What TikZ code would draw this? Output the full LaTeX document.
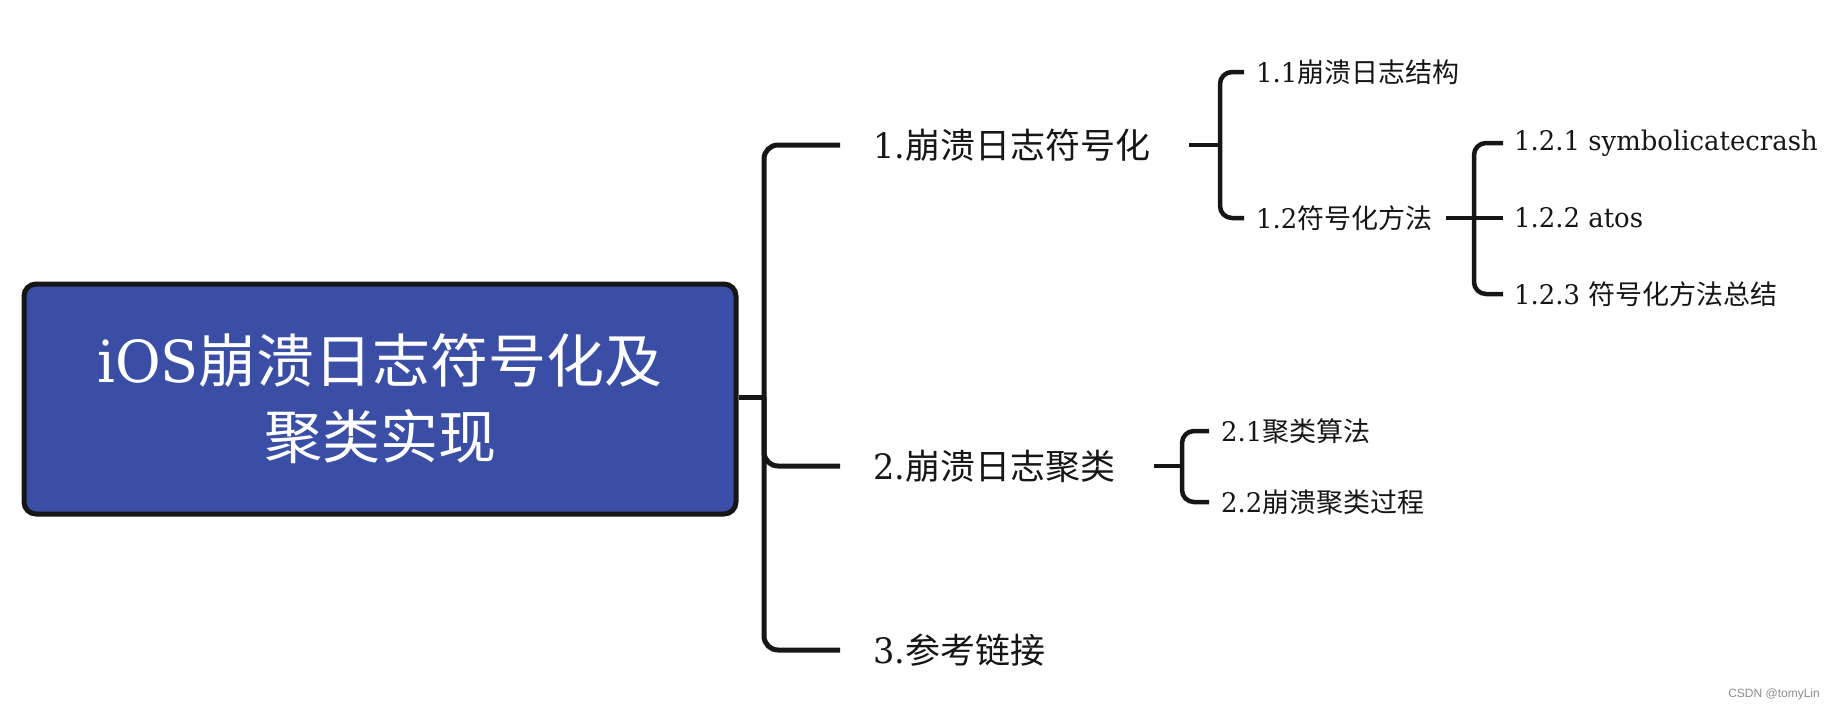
\documentclass[tikz,border=0pt]{standalone}
\usepackage{fontspec}
\setmainfont{DejaVu Serif}[FakeStretch=0.96]
\newfontfamily\cjk{Noto Sans CJK SC}
\newfontfamily\wmfont{Liberation Sans}
\usetikzlibrary{calc}
\definecolor{rootblue}{RGB}{59,78,166}
\definecolor{ink}{RGB}{22,22,22}
\tikzset{
  rootbox/.style={draw=ink, line width=5pt, fill=rootblue, rounded corners=12pt,
    minimum width=712pt, minimum height=230pt, text=white, align=center,
    font=\fontsize{58}{76}\selectfont},
  lvone/.style={anchor=west, inner sep=0pt, text=ink, font=\fontsize{35}{42}\selectfont},
  lvtwo/.style={anchor=west, inner sep=0pt, text=ink, font=\fontsize{27}{32}\selectfont},
  conn/.style={draw=ink, line width=5pt, rounded corners=14pt},
  subconn/.style={draw=ink, line width=4.5pt, rounded corners=12pt},
}
\begin{document}
\begin{tikzpicture}[x=1pt,y=-1pt]
\useasboundingbox (0,0) rectangle (1844,710);
% root
\node[rootbox] (root) at (380,399) {iOS{\cjk 崩溃日志符号化及}\\{\cjk 聚类实现}};
% level 1
\node[lvone] (n1) at (873,145) {1.{\cjk 崩溃日志符号化}};
\node[lvone] (n2) at (873,466) {2.{\cjk 崩溃日志聚类}};
\node[lvone] (n3) at (873,650) {3.{\cjk 参考链接}};
% level 2
\node[lvtwo] (n11) at (1256,72) {1.1{\cjk 崩溃日志结构}};
\node[lvtwo] (n12) at (1256,218) {1.2{\cjk 符号化方法}};
\node[lvtwo] (n21) at (1221,431) {2.1{\cjk 聚类算法}};
\node[lvtwo] (n22) at (1221,502) {2.2{\cjk 崩溃聚类过程}};
% level 3
\node[lvtwo] (n121) at (1514,143) {1.2.1 symbolicatecrash};
\node[lvtwo] (n122) at (1514,218) {1.2.2 atos};
\node[lvtwo] (n123) at (1514,294) {1.2.3 {\cjk 符号化方法总结}};
% junction points
\coordinate (j0) at (764,397);
\coordinate (j1) at (1220,145);
\coordinate (j2) at (1182,466);
\coordinate (j12) at (1474,218);
% main trunk
\draw[conn] (root.east |- j0) -- (j0);
\draw[conn] ([xshift=-33pt]n1.west) -| (j0) |- ([xshift=-33pt]n3.west);
\draw[conn] (j0) |- ([xshift=-33pt]n2.west);
% branch 1
\draw[subconn] ([xshift=39pt]n1.east) -- (j1);
\draw[subconn] ([xshift=-12pt]n11.west) -| (j1) |- ([xshift=-12pt]n12.west);
% branch 1.2
\draw[subconn] ([xshift=13pt]n12.east) -- (j12) -- ([xshift=-11pt]n122.west);
\draw[subconn] ([xshift=-11pt]n121.west) -| (j12) |- ([xshift=-11pt]n123.west);
% branch 2
\draw[subconn] ([xshift=39pt]n2.east) -- (j2);
\draw[subconn] ([xshift=-12pt]n21.west) -| (j2) |- ([xshift=-12pt]n22.west);
% watermark
\node[anchor=east, inner sep=0pt, text=black!45, font=\wmfont\fontsize{12}{14}\selectfont] (wm) at (1820,694) {CSDN @tomyLin};
\end{tikzpicture}
\end{document}
